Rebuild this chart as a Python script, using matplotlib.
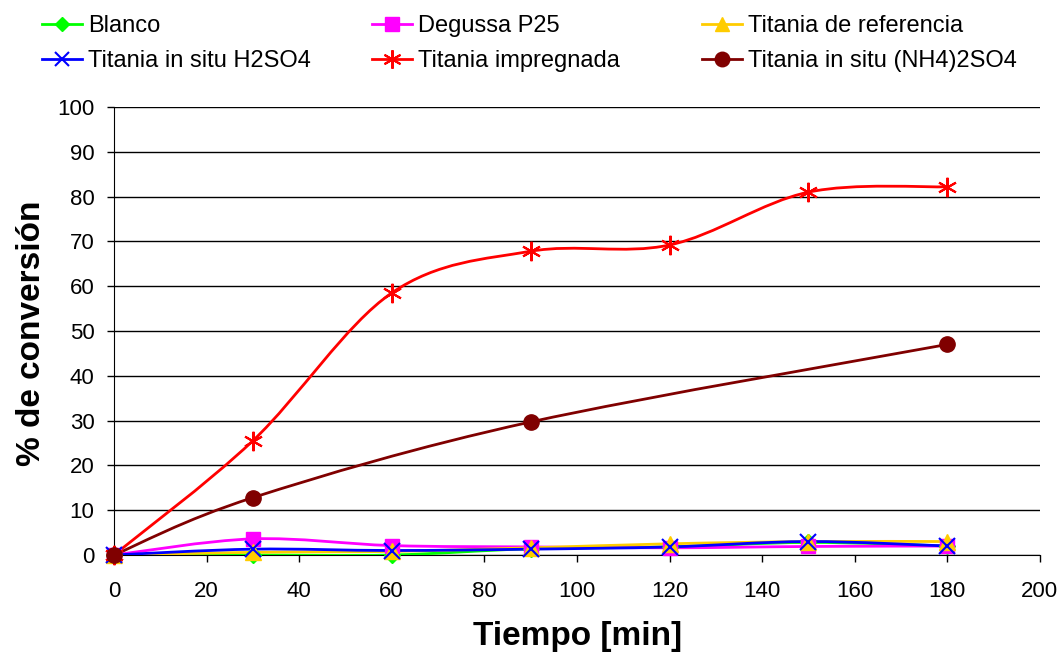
import matplotlib
matplotlib.use("Agg")
import matplotlib.pyplot as plt
from matplotlib.path import Path
from matplotlib.patches import PathPatch
from matplotlib.lines import Line2D
import numpy as np

plt.rcParams["font.family"] = ["Liberation Sans", "DejaVu Sans"]

# datos
tiempo = [0, 30, 60, 90, 120, 150, 180]
blanco = [0, 0, 0, 1.4, 1.8, 2.8, 2.0]
degussa = [0, 3.6, 2.1, 1.8, 1.6, 1.9, 2.0]
referencia = [0, 0.6, 0.8, 1.6, 2.5, 3.0, 3.0]
h2so4 = [0, 1.3, 1.0, 1.3, 1.8, 3.0, 2.0]
impregnada = [0, 25.5, 58.5, 67.8, 69.2, 81.0, 82.2]
tiempo_nh4 = [0, 30, 90, 180]
nh4 = [0, 12.8, 29.7, 47.0]

series = [
    ("Blanco", tiempo, blanco, "#00ff00", "D", 8),
    ("Degussa P25", tiempo, degussa, "#ff00ff", "s", 10),
    ("Titania de referencia", tiempo, referencia, "#ffcc00", "^", 11),
    ("Titania in situ H2SO4", tiempo, h2so4, "#0000ff", "x", 11),
    ("Titania impregnada", tiempo, impregnada, "#ff0000", (6, 2, 0), 14),
    ("Titania in situ (NH4)2SO4", tiempo_nh4, nh4, "#800000", "o", 11),
]


def curva_suave(xs, ys):
    # curva tipo Excel (Bezier con tension 1/6)
    p = np.column_stack([xs, ys]).astype(float)
    ext = np.vstack([p[0], p, p[-1]])
    verts = [p[0]]
    codes = [Path.MOVETO]
    for i in range(len(p) - 1):
        a, b, c, d = ext[i], ext[i + 1], ext[i + 2], ext[i + 3]
        verts += [b + (c - a) / 6, c - (d - b) / 6, c]
        codes += [Path.CURVE4] * 3
    return Path(verts, codes)


fig = plt.figure(figsize=(10.62, 6.55), dpi=100)
ax = fig.add_axes([0.1073, 0.1527, 0.8719, 0.6839])

handles = []
for nombre, xs, ys, col, mk, ms in series:
    mw = 1.5 if mk in ("x", (6, 2, 0)) else 1
    ax.add_patch(PathPatch(curva_suave(xs, ys), fc="none", ec=col, lw=2, zorder=3))
    ax.plot(xs, ys, ls="none", marker=mk, ms=ms, color=col, mec=col,
            mew=mw, zorder=4, clip_on=False)
    handles.append(Line2D([], [], color=col, lw=2, marker=mk, ms=ms * 0.95, mew=mw))

ax.set_xlim(0, 200)
ax.set_ylim(0, 100)
ax.set_xticks(range(0, 201, 20))
ax.set_yticks(range(0, 101, 10))
ax.yaxis.grid(True, color="black", lw=1)
ax.set_axisbelow(True)
for s in ["top", "right"]:
    ax.spines[s].set_visible(False)
ax.tick_params(labelsize=16, direction="out", length=5, width=1)
ax.tick_params(axis="y", pad=9)
ax.tick_params(axis="x", pad=14)

fig.text(0.544, 0.0275, "Tiempo [min]", fontsize=24, fontweight="bold",
         ha="center", va="center")
fig.text(0.03, 0.491, "% de conversión", fontsize=24, fontweight="bold",
         ha="center", va="center", rotation=90)

# leyenda: tres columnas
cols_x = [42, 372, 702]
for k in range(3):
    idx = [k, k + 3]
    fig.legend([handles[i] for i in idx], [series[i][0] for i in idx],
               loc="upper left", bbox_to_anchor=(cols_x[k] / 1062, 1 - 15 / 655),
               frameon=False, fontsize=17, borderpad=0, borderaxespad=0,
               handlelength=1.7, handletextpad=0.25, labelspacing=0.55)

fig.savefig("out.png", dpi=100)
